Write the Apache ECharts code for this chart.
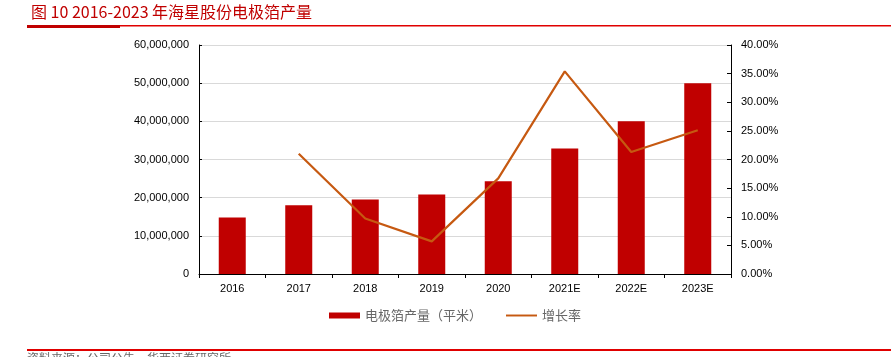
<!DOCTYPE html>
<html><head><meta charset="utf-8">
<script src="https://cdn.jsdelivr.net/npm/echarts@6/dist/echarts.min.js"></script>
<style>html,body{margin:0;padding:0;background:#fff}#c{width:891px;height:357px}</style>
</head><body><div id="c"></div>
<script>
var categories = ['2016','2017','2018','2019','2020','2021E','2022E','2023E'];
var output = [14800000, 18000000, 19500000, 20800000, 24300000, 32900000, 40000000, 50000000];
var growth = [null, 0.210, 0.097, 0.057, 0.167, 0.354, 0.213, 0.251];
var leftTicks = [0, 10000000, 20000000, 30000000, 40000000, 50000000, 60000000];
var rightTicks = [0, 0.05, 0.10, 0.15, 0.20, 0.25, 0.30, 0.35, 0.40];

var chart = echarts.init(document.getElementById('c'));
var lab = {fontFamily:'Liberation Sans, Arial', fontSize:11, color:'#000'};
chart.setOption({
  animation:false,
  title:{text:'图 10 2016-2023 年海星股份电极箔产量', left:26, top:-1,
    textStyle:{fontFamily:'Noto Sans CJK SC', fontSize:16, fontWeight:'normal', color:'#C00000'}},
  graphic:[
    {type:'rect', shape:{x:27,y:25,width:864,height:1.5}, style:{fill:'#E00000'}},
    {type:'rect', shape:{x:27,y:25,width:93,height:3}, style:{fill:'#C00000'}},
    {type:'rect', shape:{x:27,y:349,width:864,height:2}, style:{fill:'#E00000'}},
    {type:'text', left:27, top:352, style:{text:'资料来源：公司公告，华西证券研究所', fontFamily:'Noto Sans CJK SC', fontSize:12, fill:'#666'}}
  ],
  legend:{bottom:30, left:324, itemGap:24, itemWidth:31, itemHeight:6,
    textStyle:{fontFamily:'Noto Sans CJK SC', fontSize:13, color:'#666'},
    data:[{name:'电极箔产量（平米）', icon:'rect'},{name:'增长率', icon:'path://M0,0L32,0L32,2L0,2Z'}]},
  grid:{left:199, right:160, top:45, bottom:83},
  xAxis:{type:'category', data:categories,
    axisLine:{lineStyle:{color:'#000'}},
    axisTick:{show:true, inside:false, length:4, lineStyle:{color:'#000'}},
    axisLabel:Object.assign({margin:9}, lab)},
  yAxis:[
    {type:'value', min:0, max:60000000, interval:10000000,
     axisLine:{show:true, lineStyle:{color:'#000'}},
     axisTick:{show:true, inside:true, length:3, lineStyle:{color:'#000'}},
     splitLine:{lineStyle:{color:'#D9D9D9'}},
     axisLabel:Object.assign({margin:10, formatter:function(v){return v.toLocaleString('en-US');}}, lab)},
    {type:'value', min:0, max:0.4, interval:0.05,
     axisLine:{show:true, lineStyle:{color:'#000'}},
     axisTick:{show:true, inside:true, length:4, lineStyle:{color:'#000'}},
     splitLine:{show:false},
     axisLabel:Object.assign({margin:10, formatter:function(v){return (v*100).toFixed(2)+'%';}}, lab)}
  ],
  series:[
    {name:'电极箔产量（平米）', type:'bar', data:output, barWidth:27, itemStyle:{color:'#C00000'}},
    {name:'增长率', type:'line', yAxisIndex:1, data:growth, symbol:'none',
     lineStyle:{color:'#C65911', width:2.2}, itemStyle:{color:'#C65911'}}
  ]
});
</script></body></html>
